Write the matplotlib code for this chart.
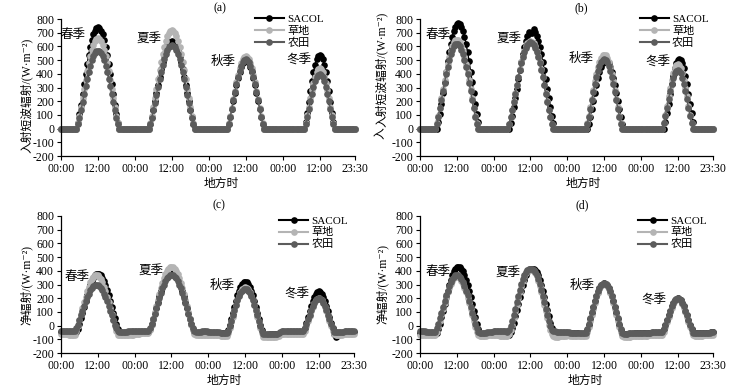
import matplotlib
matplotlib.use('Agg')
import matplotlib.pyplot as plt
from matplotlib.lines import Line2D

plt.rcParams['font.family'] = ['Liberation Serif', 'Noto Sans CJK SC', 'DejaVu Sans']
plt.rcParams['axes.unicode_minus'] = False

# ---------------- data (half-hourly, 4 seasons x 48 points) ----------------
series_names = ['SACOL', '草地', '农田']
season_names = ['春季', '夏季', '秋季', '冬季']
xtick_pos = [0, 24, 48, 72, 96, 120, 144, 168, 191]
xtick_labels = ['00:00', '12:00', '00:00', '12:00', '00:00', '12:00', '00:00', '12:00', '23:30']
yticks = [-200, -100, 0, 100, 200, 300, 400, 500, 600, 700, 800]

# (a) incoming shortwave
a_sacol = (
    [0,0,0,0,0,0,0,0,0,0,0, 43,105,175,250,326,400,472,537,596,646,687,716,734,740,734,716,687,646,596,537,472,400,326,250,175,105,43, 0,0,0,0,0,0,0,0,0,0] +
    [0,0,0,0,0,0,0,0,0,0, 34,83,139,199,260,321,380,435,486,531,569,600,622,635,640,635,622,600,569,531,486,435,380,321,260,199,139,83,34, 0,0,0,0,0,0,0,0,0] +
    [0,0,0,0,0,0,0,0,0,0,0,0,0, 35,86,143,203,262,319,370,415,451,478,494,500,494,478,451,415,370,319,262,203,143,86,35, 0,0,0,0,0,0,0,0,0,0,0,0] +
    [0,0,0,0,0,0,0,0,0,0,0,0,0,0,0, 48,117,193,271,344,410,465,506,531,540,531,506,465,410,344,271,193,117,48, 0,0,0,0,0,0,0,0,0,0,0,0,0,0])
a_grass = (
    [0,0,0,0,0,0,0,0,0,0,0, 38,93,156,223,291,357,421,479,532,576,612,638,655,660,655,638,612,576,532,479,421,357,291,223,156,93,38, 0,0,0,0,0,0,0,0,0,0] +
    [0,0,0,0,0,0,0,0,0,0, 38,93,156,224,292,361,427,489,547,597,640,675,700,715,720,715,700,675,640,597,547,489,427,361,292,224,156,93,38, 0,0,0,0,0,0,0,0,0] +
    [0,0,0,0,0,0,0,0,0,0,0,0,0, 38,91,152,215,278,338,392,440,478,507,524,530,524,507,478,440,392,338,278,215,152,91,38, 0,0,0,0,0,0,0,0,0,0,0,0] +
    [0,0,0,0,0,0,0,0,0,0,0,0,0,0,0, 39,96,158,221,280,334,379,412,433,440,433,412,379,334,280,221,158,96,39, 0,0,0,0,0,0,0,0,0,0,0,0,0,0])
a_farm = (
    [0,0,0,0,0,0,0,0,0,0,0, 33,81,135,193,251,308,363,414,459,498,529,551,565,570,565,551,529,498,459,414,363,308,251,193,135,81,33, 0,0,0,0,0,0,0,0,0,0] +
    [0,0,0,0,0,0,0,0,0,0, 32,79,133,189,248,306,362,415,463,506,542,572,593,606,610,606,593,572,542,506,463,415,362,306,248,189,133,79,32, 0,0,0,0,0,0,0,0,0] +
    [0,0,0,0,0,0,0,0,0,0,0,0,0, 36,88,146,207,268,325,377,423,460,488,504,510,504,488,460,423,377,325,268,207,146,88,36, 0,0,0,0,0,0,0,0,0,0,0,0] +
    [0,0,0,0,0,0,0,0,0,0,0,0,0,0,0, 36,87,143,200,255,304,344,375,394,400,394,375,344,304,255,200,143,87,36, 0,0,0,0,0,0,0,0,0,0,0,0,0,0])

# (b) incoming shortwave
b_sacol = (
    [0,0,0,0,0,0,0,0,0,0,0,0, 45,109,182,260,339,416,491,559,620,672,714,745,764,770,764,745,714,672,620,559,491,416,339,260,182,109,45, 0,0,0,0,0,0,0,0,0] +
    [0,0,0,0,0,0,0,0,0,0,0, 38,93,156,224,292,361,427,489,547,597,640,675,705,700,695,730,705,675,640,597,547,489,427,361,292,224,156,93,38, 0,0,0,0,0,0,0,0] +
    [0,0,0,0,0,0,0,0,0,0,0,0,0,0, 35,86,143,203,262,319,370,415,451,478,494,500,494,478,451,415,370,319,262,203,143,86,35, 0,0,0,0,0,0,0,0,0,0,0] +
    [0,0,0,0,0,0,0,0,0,0,0,0,0,0,0,0, 46,111,183,256,325,387,439,478,502,510,502,478,439,387,325,256,183,111,46, 0,0,0,0,0,0,0,0,0,0,0,0,0])
b_grass = (
    [0,0,0,0,0,0,0,0,0,0,0, 38,92,154,220,286,352,414,472,524,568,603,629,645,650,645,629,603,568,524,472,414,352,286,220,154,92,38, 0,0,0,0,0,0,0,0,0,0] +
    [0,0,0,0,0,0,0,0,0,0, 34,83,139,199,260,321,380,435,486,531,569,600,622,635,640,635,622,600,569,531,486,435,380,321,260,199,139,83,34, 0,0,0,0,0,0,0,0,0] +
    [0,0,0,0,0,0,0,0,0,0,0,0,0, 38,93,155,219,283,344,400,448,487,516,534,540,534,516,487,448,400,344,283,219,155,93,38, 0,0,0,0,0,0,0,0,0,0,0,0] +
    [0,0,0,0,0,0,0,0,0,0,0,0,0,0,0, 42,102,168,236,300,357,405,440,462,470,462,440,405,357,300,236,168,102,42, 0,0,0,0,0,0,0,0,0,0,0,0,0,0])
b_farm = (
    [0,0,0,0,0,0,0,0,0,0,0, 36,88,147,209,273,335,395,450,500,541,575,600,615,620,615,600,575,541,500,450,395,335,273,209,147,88,36, 0,0,0,0,0,0,0,0,0,0] +
    [0,0,0,0,0,0,0,0,0,0, 34,82,137,196,256,316,374,428,478,523,560,590,612,626,630,626,612,590,560,523,478,428,374,316,256,196,137,82,34, 0,0,0,0,0,0,0,0,0] +
    [0,0,0,0,0,0,0,0,0,0,0,0,0, 36,88,146,207,268,325,377,423,460,488,504,510,504,488,460,423,377,325,268,207,146,88,36, 0,0,0,0,0,0,0,0,0,0,0,0] +
    [0,0,0,0,0,0,0,0,0,0,0,0,0,0,0, 39,93,154,216,274,326,370,403,423,430,423,403,370,326,274,216,154,93,39, 0,0,0,0,0,0,0,0,0,0,0,0,0,0])

# (c) net radiation
c_sacol = (
    [-45,-46,-47,-48,-48,-49,-49,-50,-50,-51,-50, -25,11,52,95,139,183,224,262,296,326,349,366,376,380,376,366,349,326,296,262,224,183,139,95,52,11,-25, -52,-55,-57,-56,-55,-54,-53,-52,-51,-50] +
    [-48,-47,-47,-46,-46,-45,-45,-45,-46,-45, -22,11,49,90,132,173,213,251,285,316,342,363,378,387,390,387,378,363,342,316,285,251,213,173,132,90,49,11,-22, -48,-52,-54,-53,-52,-51,-50,-50,-49] +
    [-50,-51,-52,-52,-53,-53,-54,-54,-55,-55,-56,-56,-58, -33,6,49,94,139,182,221,255,283,303,316,320,316,303,283,255,221,182,139,94,49,6,-33, -62,-65,-66,-65,-64,-63,-62,-61,-60,-60,-59,-58] +
    [-45,-44,-44,-44,-45,-45,-45,-46,-46,-46,-47,-47,-47,-48,-48, -19,19,61,103,143,179,209,231,245,250,245,231,209,179,143,103,61,19,-19, -60,-85,-75,-58,-55,-54,-53,-52,-51,-50,-50,-49,-49,-48])
c_grass = (
    [-62,-63,-63,-64,-64,-65,-65,-66,-66,-66, -40,-3,38,82,127,170,212,251,285,315,339,356,366,370,366,356,339,315,285,251,212,170,127,82,38,-3,-40, -66,-70,-72,-71,-70,-69,-68,-67,-66,-66,-65] +
    [-62,-60,-59,-58,-57,-57,-56,-56,-55,-55, -29,8,50,96,142,188,233,275,313,347,376,399,416,427,430,427,416,399,376,347,313,275,233,188,142,96,50,8,-29, -62,-68,-72,-72,-71,-70,-70,-69,-68] +
    [-68,-68,-69,-70,-70,-71,-72,-72,-73,-74,-75,-76,-78, -54,-18,23,66,109,149,186,219,245,264,276,280,276,264,245,219,186,149,109,66,23,-18,-54, -82,-85,-86,-85,-84,-83,-82,-81,-80,-79,-78,-62] +
    [-58,-58,-58,-59,-59,-59,-60,-60,-60,-61,-61,-61,-62,-62,-62, -37,-4,33,70,106,137,164,184,196,200,196,184,164,137,106,70,33,-4,-37, -64,-67,-68,-67,-66,-65,-64,-63,-63,-62,-62,-61,-61,-60])
c_farm = (
    [-40,-40,-41,-41,-41,-42,-42,-42,-42,-42, -20,8,40,75,110,144,177,207,234,257,275,289,297,300,297,289,275,257,234,207,177,144,110,75,40,8,-20, -42,-46,-48,-47,-46,-45,-44,-43,-43,-42,-42] +
    [-42,-41,-41,-40,-40,-40,-40,-39,-39,-40, -18,13,49,87,127,166,203,239,271,300,325,344,358,367,370,367,358,344,325,300,271,239,203,166,127,87,49,13,-18, -42,-45,-47,-46,-44,-43,-42,-42,-41] +
    [-45,-46,-47,-47,-48,-49,-50,-50,-51,-52,-53,-54,-56, -37,-3,35,74,113,150,184,214,238,255,266,270,266,255,238,214,184,150,113,74,35,-3,-37, -60,-63,-64,-63,-62,-61,-60,-59,-58,-58,-57,-45] +
    [-42,-42,-42,-41,-41,-41,-41,-40,-40,-40,-40,-41,-41,-41,-41, -18,12,46,80,113,142,167,185,196,200,196,185,167,142,113,80,46,12,-18, -44,-46,-47,-46,-45,-44,-44,-43,-43,-42,-42,-42,-41,-41])

# (d) net radiation
d_sacol = (
    [-52,-52,-53,-53,-54,-54,-55,-55,-55,-56,-56,-56, -27,14,60,109,159,207,254,297,336,369,395,414,426,430,426,414,395,369,336,297,254,207,159,109,60,14,-27, -58,-60,-60,-59,-58,-57,-56,-55,-55] +
    [-55,-56,-57,-58,-59,-60,-62,-64,-66,-68,-66, -46,-18,20,67,114,161,208,255,297,335,368,391,405,410,410,410,405,391,368,335,297,255,208,161,114,67,20,-18,-46, -60,-62,-63,-62,-61,-60,-59,-58] +
    [-55,-55,-56,-56,-56,-57,-57,-57,-58,-58,-58,-58,-57, -29,8,50,93,136,178,215,248,274,294,306,310,306,294,274,248,215,178,136,93,50,8,-29, -58,-62,-63,-62,-61,-60,-59,-58,-57,-57,-56,-55] +
    [-55,-55,-54,-54,-54,-53,-53,-53,-52,-52,-52,-52,-51,-51,-51, -28,4,40,75,109,140,165,184,196,200,196,184,165,140,109,75,40,4,-28, -52,-55,-56,-55,-54,-53,-53,-52,-52,-52,-51,-51,-50,-50])
d_grass = (
    [-66,-67,-67,-68,-68,-69,-69,-70,-70,-70,-70, -45,-9,32,75,119,163,204,242,276,306,329,346,356,360,356,346,329,306,276,242,204,163,119,75,32,-9,-45, -72,-75,-76,-75,-74,-73,-72,-71,-70,-70] +
    [-70,-71,-72,-72,-73,-73,-74,-74,-75,-75, -61,-32,7,55,103,151,199,247,290,328,362,386,400,405,405,405,400,386,362,328,290,247,199,151,103,55,7,-32,-61, -78,-80,-81,-80,-79,-78,-77,-76,-76] +
    [-72,-72,-73,-73,-73,-74,-74,-74,-75,-75,-75,-75,-76, -48,-9,34,79,124,167,206,240,268,288,301,305,301,288,268,240,206,167,124,79,34,-9,-48, -78,-82,-83,-82,-81,-80,-79,-78,-77,-77,-76,-75] +
    [-74,-74,-73,-73,-73,-72,-72,-72,-71,-71,-71,-70,-70,-70,-70, -46,-12,25,63,99,131,158,178,191,195,191,178,158,131,99,63,25,-12,-46, -72,-75,-76,-75,-74,-73,-73,-72,-72,-72,-71,-71,-70,-70])
d_farm = (
    [-42,-42,-43,-43,-44,-44,-44,-45,-45,-45,-45, -21,14,53,95,138,179,220,256,289,317,340,356,367,370,367,356,340,317,289,256,220,179,138,95,53,14,-21, -50,-55,-56,-55,-53,-51,-49,-47,-45,-44] +
    [-42,-41,-41,-40,-40,-40,-41,-42,-43,-45, -31,-4,32,78,123,169,214,260,301,337,369,392,405,410,410,410,405,392,369,337,301,260,214,169,123,78,32,-4,-31, -40,-42,-44,-46,-47,-48,-49,-50,-50] +
    [-50,-50,-51,-51,-51,-52,-52,-52,-52,-52,-52,-52,-52, -24,12,53,96,139,179,216,249,275,294,306,310,306,294,275,249,216,179,139,96,53,12,-24, -55,-58,-59,-58,-57,-56,-55,-55,-54,-54,-53,-52] +
    [-52,-52,-52,-51,-51,-51,-51,-50,-50,-50,-50,-50,-50,-50,-50, -28,4,40,75,109,140,165,184,196,200,196,184,165,140,109,75,40,4,-28, -52,-54,-55,-54,-53,-53,-52,-52,-52,-51,-51,-51,-50,-50])

for arr in [a_sacol, a_grass, a_farm, b_sacol, b_grass, b_farm,
            c_sacol, c_grass, c_farm, d_sacol, d_grass, d_farm]:
    assert len(arr) == 192, len(arr)

x = list(range(192))

# season label positions (data coords)
a_lab = [(7.8, 683), (57.1, 654), (105.1, 486), (154.4, 493)]
b_lab = [(11.9, 683), (57.9, 652), (104.9, 506), (155.2, 481)]
c_lab = [(10.2, 357), (58.8, 398), (104.9, 291), (153.9, 223)]
d_lab = [(11.9, 389), (57.3, 389), (106.0, 291), (152.3, 180)]

colors = ['#000000', '#b4b4b4', '#5c5c5c']

W, H = 738, 391
fig = plt.figure(figsize=(W / 100, H / 100), dpi=100)

panels = [
    dict(rect=(61, 19, 294, 137), data=(a_sacol, a_grass, a_farm), lab=a_lab, title='(a)',
         ylabel='入射短波辐射/(W·m⁻²)', tx=0.54, xl=0.545, yl=-0.118, yc=0.445, leg=(0.66, 1.035)),
    dict(rect=(420, 19, 293, 137), data=(b_sacol, b_grass, b_farm), lab=b_lab, title='(b)',
         ylabel='入射短波辐射/(W·m⁻²)', tx=0.552, xl=0.556, yl=-0.13, yc=0.63, leg=(0.75, 1.035)),
    dict(rect=(61, 216, 293, 137), data=(c_sacol, c_grass, c_farm), lab=c_lab, title='(c)',
         ylabel='净辐射/(W·m⁻²)', tx=0.54, xl=0.557, yl=-0.118, yc=0.496, leg=(0.745, 1.0)),
    dict(rect=(420, 216, 293, 137), data=(d_sacol, d_grass, d_farm), lab=d_lab, title='(d)',
         ylabel='净辐射/(W·m⁻²)', tx=0.553, xl=0.565, yl=-0.13, yc=0.507, leg=(0.745, 1.0)),
]

fs = 8.5
for p in panels:
    l, t, w, h = p['rect']
    ax = fig.add_axes([l / W, 1 - (t + h) / H, w / W, h / H])
    for vals, col, name in zip(p['data'], colors, series_names):
        ax.plot(x, vals, '-o', color=col, markersize=4.8, linewidth=1.0,
                markeredgewidth=0, clip_on=False, label=name)
    ax.set_xlim(0, 191)
    ax.set_ylim(-200, 800)
    ax.set_yticks(yticks)
    ax.set_xticks(xtick_pos)
    ax.set_xticklabels(xtick_labels)
    ax.tick_params(direction='out', length=3, width=0.8, labelsize=fs, pad=2)
    for s in ['top', 'right']:
        ax.spines[s].set_visible(False)
    for s in ['left', 'bottom']:
        ax.spines[s].set_linewidth(0.9)
    ax.text(p['tx'], 1.0 + 11 / 137, p['title'], transform=ax.transAxes,
            ha='center', va='center', fontsize=fs)
    ax.text(p['xl'], -28 / 137, '地方时', transform=ax.transAxes,
            ha='center', va='center', fontsize=fs)
    ax.text(p['yl'], p['yc'], p['ylabel'], transform=ax.transAxes, rotation=90,
            ha='center', va='center', fontsize=fs)
    for (lx, ly), sn in zip(p['lab'], season_names):
        ax.text(lx, ly, sn, ha='center', va='center', fontsize=9)
    handles = [Line2D([0], [0], color=c, marker='o', markersize=4.8, markeredgewidth=0,
                      linewidth=1.5) for c in colors]
    ax.legend(handles, series_names, loc='upper left', bbox_to_anchor=p['leg'],
              frameon=False, fontsize=8, handlelength=2.6, handletextpad=0.3,
              labelspacing=0.15, borderpad=0, borderaxespad=0, numpoints=1)
    if p['title'] == '(b)':
        ax.text(-0.133, 0.17, '入', transform=ax.transAxes, rotation=90,
                ha='center', va='center', fontsize=fs)

fig.savefig('out.png', dpi=100, facecolor='white')
